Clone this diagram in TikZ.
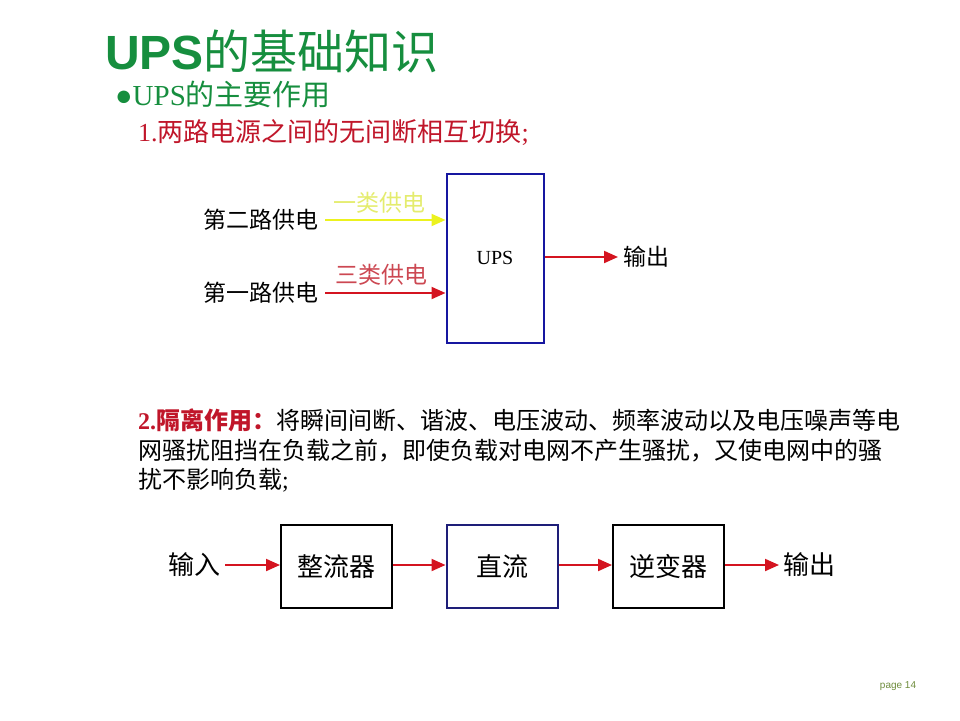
\documentclass[tikz,border=0pt]{standalone}
\usepackage{fontspec}
\setmainfont{Liberation Serif}
\newfontfamily\cjk{Noto Sans CJK SC}
\newfontfamily\headsans{Liberation Sans}
\usetikzlibrary{arrows.meta,positioning}
\definecolor{titlegreen}{RGB}{22,142,62}
\definecolor{headred}{RGB}{192,22,42}
\definecolor{arrowred}{RGB}{212,20,32}
\definecolor{feedyellow}{RGB}{236,242,30}
\definecolor{labelyellow}{RGB}{228,236,110}
\definecolor{labelred}{RGB}{204,72,82}
\definecolor{upsblue}{RGB}{22,22,160}
\definecolor{dcblue}{RGB}{30,30,120}
\definecolor{pagegreen}{RGB}{110,140,60}
\newcommand{\fsz}[1]{\fontsize{#1}{#1}\selectfont}
\tikzset{
  plain/.style={inner sep=0pt, anchor=west},
  feed/.style={line width=2pt, color=arrowred, -{Triangle[length=14pt,width=12pt]}},
  stage/.style={draw=black, line width=2pt, minimum width=111pt, minimum height=83pt,
    inner sep=0pt, font=\cjk\fsz{26}},
}

\begin{document}
\begin{tikzpicture}[x=1pt,y=-1pt]
  %%%%% START %%%%%
  \useasboundingbox (0,0) rectangle (960,720);

  % headings
  \node[plain, text=titlegreen] (title) at (105,52)
    {{\headsans\bfseries\fsz{48}UPS}{\cjk\fsz{47}的基础知识}};
  \node[plain, text=titlegreen, font=\fsz{29}] (bullet) at (115,94)
    {●UPS{\cjk 的主要作用}};
  \node[plain, text=headred, font=\cjk\fsz{26}] (point1) at (138,133)
    {{\rmfamily 1.}两路电源之间的无间断相互切换{\rmfamily ;}};

  % two feeds into the UPS
  \node[draw=upsblue, line width=2pt, minimum width=97pt, minimum height=169pt,
    inner sep=0pt, font=\fsz{20}] (ups) at (495,258) {UPS};
  \node[plain, font=\cjk\fsz{23}] (second) at (203,220) {第二路供电};
  \node[plain, font=\cjk\fsz{23}] (first) at (203,293) {第一路供电};
  \node[plain, font=\cjk\fsz{23}, text=labelyellow] (class1) at (333,203) {一类供电};
  \node[plain, font=\cjk\fsz{23}, text=labelred] (class3) at (335,275) {三类供电};
  \node[plain, font=\cjk\fsz{23}] (out1) at (623,257) {输出};

  \draw[feed, color=feedyellow] ([xshift=7pt]second.east) -- (second.east -| ups.west);
  \draw[feed] ([xshift=7pt]first.east) -- (first.east -| ups.west);
  \draw[feed] (ups.east |- out1.west) -- ([xshift=-5pt]out1.west);

  % isolation text
  \node[plain, font=\cjk\fsz{24}] (iso1) at (138,420)
    {\textcolor{headred}{\bfseries{\rmfamily 2.}隔离作用：}将瞬间间断、谐波、电压波动、频率波动以及电压噪声等电};
  \node[plain, font=\cjk\fsz{24}] (iso2) at (138,451)
    {网骚扰阻挡在负载之前，即使负载对电网不产生骚扰，又使电网中的骚};
  \node[plain, font=\cjk\fsz{24}] (iso3) at (138,480)
    {扰不影响负载{\rmfamily ;}};

  % chain
  \node[plain, font=\cjk\fsz{26}] (in) at (168,565) {输入};
  \node[stage] (rect) at (336.5,566.5) {整流器};
  \node[stage, draw=dcblue] (dc) at (502,566.5) {直流};
  \node[stage] (inv) at (668.5,566.5) {逆变器};
  \node[plain, font=\cjk\fsz{26}] (out2) at (783,565) {输出};

  \draw[feed] ([xshift=5pt]in.east) -- (rect.west |- in.east);
  \draw[feed] (rect.east |- in.east) -- (dc.west |- in.east);
  \draw[feed] (dc.east |- in.east) -- (inv.west |- in.east);
  \draw[feed] (inv.east |- in.east) -- ([xshift=-4pt]out2.west);

  \node[font=\headsans\fsz{10}, text=pagegreen] (pageno) at (898,686) {page 14};
  %%%%% END %%%%%
\end{tikzpicture}
\end{document}
